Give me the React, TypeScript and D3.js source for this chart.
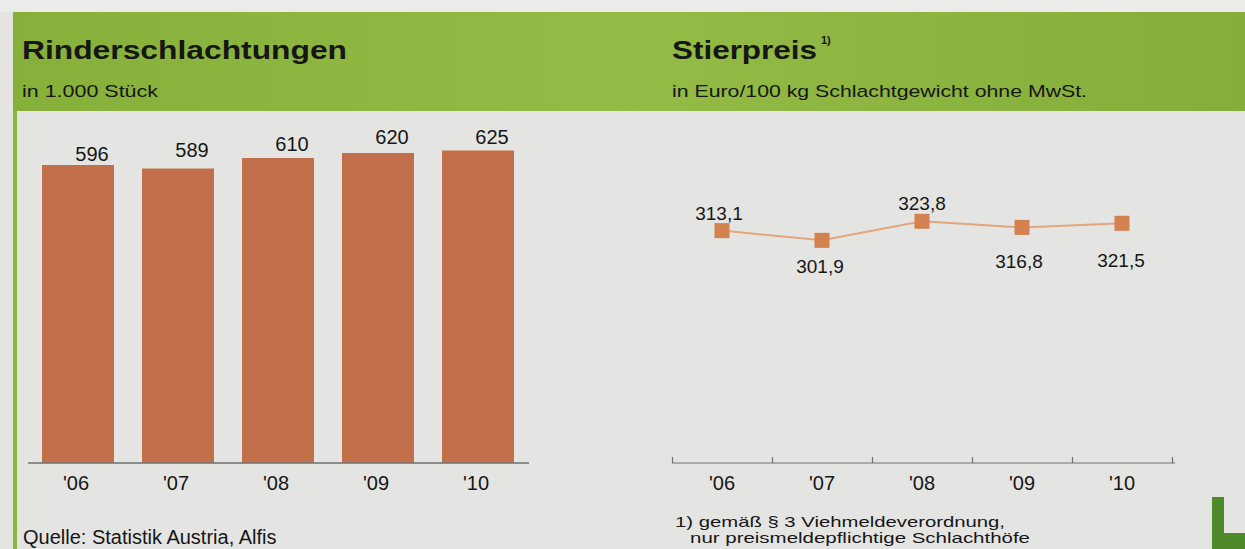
import React from "react";
import * as d3 from "d3";

const years = ["'06", "'07", "'08", "'09", "'10"];
const slaughterValues = [596, 589, 610, 620, 625];
const priceValues = [313.1, 301.9, 323.8, 316.8, 321.5];

const W = 1245;
const H = 549;
const FONT = "Liberation Sans, Arial, sans-serif";
const BAR_COLOR = "#c2704b";
const LINE_COLOR = "#e2a57c";
const MARKER_COLOR = "#d4804f";
const GREEN = "#8db440";
const INK = "#161616";

const fmt = (v: number) => v.toFixed(1).replace(".", ",");

// label nudges (hand placed in the original)
const barLabelDy = [-4, -12, -7, -9, -7];
const priceLabelDy = [-11, 33, -11, 41, 44];
const priceLabelDx = [-3, -2, 0, -3, -1];

const App: React.FC = () => {
  // left: bar chart
  const xBar = d3.scaleBand<string>().domain(years).range([28, 528]).paddingInner(0.28).paddingOuter(0.14);
  const yBar = d3.scaleLinear().domain([0, 625]).range([463, 150.5]);

  // right: line chart
  const xLine = d3.scaleBand<string>().domain(years).range([672, 1172]);
  const yLine = d3.scaleLinear().domain([200, 400]).range([329, 155]);
  const cxLine = (i: number) => xLine(years[i])! + xLine.bandwidth() / 2;
  const line = d3
    .line<number>()
    .x((_, i) => cxLine(i))
    .y((d) => yLine(d));

  const tickPositions = [...years.map((y) => xLine(y)!), xLine.range()[1]];

  return (
    <svg
      width={W}
      height={H}
      style={{ position: "absolute", left: 0, top: 0, background: "#e4e4e2" }}
      fontFamily={FONT}
      fill={INK}
    >
      <defs>
        <linearGradient id="band" x1="0" x2="1" y1="0" y2="0">
          <stop offset="0" stopColor="#86b03a" />
          <stop offset="0.5" stopColor="#93bb46" />
          <stop offset="1" stopColor="#84ad39" />
        </linearGradient>
      </defs>
      <rect x={0} y={0} width={W} height={12} fill="#ebebe9" />
      <rect x={13} y={12} width={W - 13} height={99} fill="url(#band)" />
      <rect x={13} y={111} width={4} height={H - 111} fill={GREEN} />

      {/* titles */}
      <text x={22} y={59} fontSize={26} fontWeight="bold" textLength={325} lengthAdjust="spacingAndGlyphs">
        Rinderschlachtungen
      </text>
      <text x={22} y={97} fontSize={17} textLength={136} lengthAdjust="spacingAndGlyphs">
        in 1.000 Stück
      </text>
      <text x={672} y={59} fontSize={26} fontWeight="bold" textLength={145} lengthAdjust="spacingAndGlyphs">
        Stierpreis
      </text>
      <text x={821} y={44} fontSize={11} fontWeight="bold">
        1)
      </text>
      <text x={672} y={97} fontSize={17} textLength={415} lengthAdjust="spacingAndGlyphs">
        in Euro/100 kg Schlachtgewicht ohne MwSt.
      </text>

      {/* bars */}
      {slaughterValues.map((v, i) => {
        const cx = xBar(years[i])! + xBar.bandwidth() / 2;
        return (
          <g key={years[i]}>
            <rect x={xBar(years[i])} y={yBar(v)} width={xBar.bandwidth()} height={yBar(0) - yBar(v)} fill={BAR_COLOR} />
            <text x={cx + 14} y={yBar(v) + barLabelDy[i]} textAnchor="middle" fontSize={20}>
              {v}
            </text>
            <text x={cx - 2} y={490} textAnchor="middle" fontSize={20}>
              {years[i]}
            </text>
          </g>
        );
      })}
      <line x1={28} x2={529} y1={463} y2={463} stroke="#707070" strokeWidth={1.5} />

      {/* line chart */}
      <path d={line(priceValues) ?? ""} fill="none" stroke={LINE_COLOR} strokeWidth={2} />
      {priceValues.map((v, i) => {
        const cx = cxLine(i);
        const cy = yLine(v);
        return (
          <g key={years[i]}>
            <rect x={cx - 7.5} y={cy - 7.5} width={15} height={15} fill={MARKER_COLOR} />
            <text x={cx + priceLabelDx[i]} y={cy + priceLabelDy[i]} textAnchor="middle" fontSize={19}>
              {fmt(v)}
            </text>
            <text x={cx} y={490} textAnchor="middle" fontSize={20}>
              {years[i]}
            </text>
          </g>
        );
      })}
      <line x1={672} x2={1175} y1={463} y2={463} stroke="#707070" strokeWidth={1.2} />
      {tickPositions.map((t, i) => (
        <line key={i} x1={t + 0.5} x2={t + 0.5} y1={457} y2={463} stroke="#707070" strokeWidth={1.2} />
      ))}

      {/* footnotes */}
      <text x={23} y={544} fontSize={20}>
        Quelle: Statistik Austria, Alfis
      </text>
      <text x={675} y={527} fontSize={15} textLength={330} lengthAdjust="spacingAndGlyphs">
        1) gemäß § 3 Viehmeldeverordnung,
      </text>
      <text x={690} y={543} fontSize={15} textLength={340} lengthAdjust="spacingAndGlyphs">
        nur preismeldepflichtige Schlachthöfe
      </text>

      {/* logo fragment */}
      <rect x={1212} y={497} width={12} height={52} fill="#4f8a2a" />
      <rect x={1212} y={533} width={33} height={16} fill="#4f8a2a" />
    </svg>
  );
};

export default App;
